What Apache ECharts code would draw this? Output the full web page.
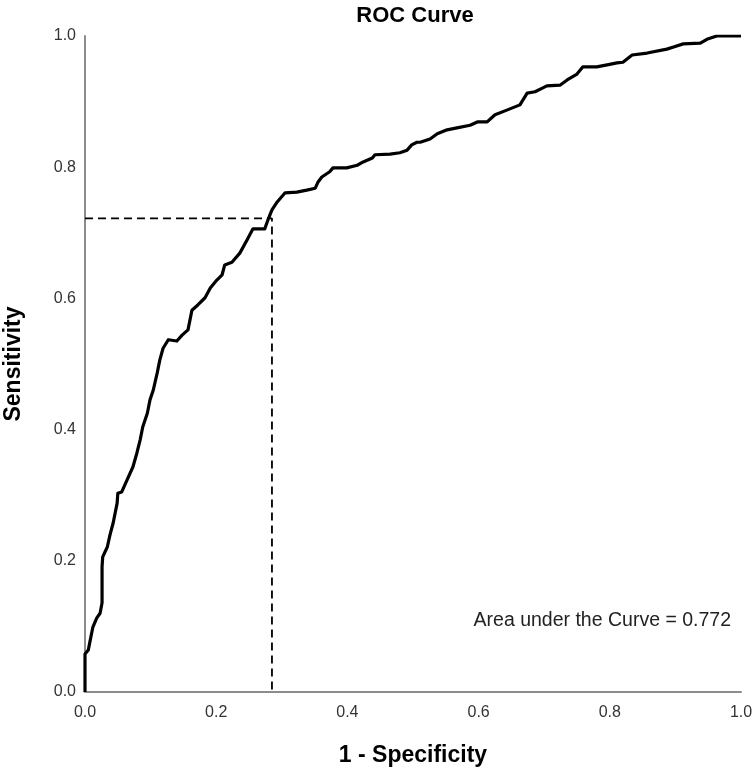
<!DOCTYPE html>
<html>
<head>
<meta charset="utf-8">
<script src="https://cdn.jsdelivr.net/npm/echarts@6/dist/echarts.min.js"></script>
<style>
html,body{margin:0;padding:0;background:#fff;}
#chart{width:755px;height:777px;}
</style>
</head>
<body>
<div id="chart"></div>
<script>
// ROC curve points: [1 - Specificity, Sensitivity]
const fpr = [0, 0, 0.005, 0.008, 0.012, 0.018, 0.023, 0.026, 0.026, 0.027, 0.034, 0.038, 0.043, 0.046, 0.049, 0.050, 0.056, 0.064, 0.073, 0.079, 0.084, 0.088, 0.095, 0.099, 0.104, 0.110, 0.114, 0.119, 0.127, 0.140, 0.148, 0.157, 0.163, 0.172, 0.183, 0.191, 0.201, 0.209, 0.213, 0.224, 0.236, 0.247, 0.256, 0.274, 0.279, 0.285, 0.293, 0.305, 0.323, 0.338, 0.351, 0.355, 0.361, 0.373, 0.378, 0.399, 0.415, 0.424, 0.438, 0.442, 0.465, 0.480, 0.491, 0.498, 0.506, 0.511, 0.526, 0.537, 0.552, 0.567, 0.587, 0.598, 0.613, 0.625, 0.643, 0.663, 0.674, 0.686, 0.698, 0.704, 0.724, 0.735, 0.750, 0.759, 0.780, 0.796, 0.811, 0.820, 0.834, 0.857, 0.887, 0.896, 0.912, 0.938, 0.948, 0.963, 1.0];
const tpr = [0, 0.058, 0.064, 0.079, 0.099, 0.113, 0.120, 0.136, 0.191, 0.206, 0.221, 0.239, 0.258, 0.273, 0.288, 0.303, 0.305, 0.323, 0.343, 0.364, 0.384, 0.404, 0.425, 0.445, 0.460, 0.486, 0.506, 0.524, 0.537, 0.535, 0.544, 0.552, 0.582, 0.590, 0.601, 0.616, 0.628, 0.636, 0.651, 0.655, 0.669, 0.689, 0.706, 0.706, 0.720, 0.735, 0.747, 0.761, 0.762, 0.765, 0.768, 0.777, 0.785, 0.793, 0.799, 0.799, 0.803, 0.808, 0.814, 0.819, 0.820, 0.822, 0.826, 0.834, 0.838, 0.838, 0.843, 0.851, 0.857, 0.860, 0.864, 0.869, 0.869, 0.880, 0.887, 0.895, 0.913, 0.915, 0.921, 0.924, 0.925, 0.933, 0.942, 0.953, 0.953, 0.956, 0.959, 0.960, 0.971, 0.974, 0.980, 0.983, 0.988, 0.989, 0.995, 1.0, 1.0];
// Cut-off reference point
const cutX = [0, 0.285, 0.285];
const cutY = [0.722, 0.722, 0];
const tickValues = [0.0, 0.2, 0.4, 0.6, 0.8, 1.0];
const titleText = 'ROC Curve';
const xTitle = '1 - Specificity';
const yTitle = 'Sensitivity';
const aucText = 'Area under the Curve = 0.772';

const roc = fpr.map((x, i) => [x, tpr[i]]);
const cut = cutX.map((x, i) => [x, cutY[i]]);
const FONT = '"Liberation Sans", Arial, sans-serif';

const chart = echarts.init(document.getElementById('chart'), null, {renderer: 'canvas'});
const axisCommon = {
  type: 'value', min: 0, max: 1, interval: 0.2,
  axisLine: {show: true, lineStyle: {color: '#8c8c8c', width: 2}},
  axisTick: {show: false},
  splitLine: {show: false},
  axisLabel: {color: '#333', fontFamily: FONT, fontSize: 16, formatter: v => v.toFixed(1)},
  nameLocation: 'middle',
  nameTextStyle: {color: '#000', fontFamily: FONT, fontSize: 23, fontWeight: 'bold'}
};
chart.setOption({
  backgroundColor: '#fff',
  animation: false,
  title: {
    text: titleText, left: 410, top: 0, textAlign: 'center',
    textStyle: {color: '#000', fontFamily: FONT, fontSize: 22, fontWeight: 'bold'}
  },
  grid: {left: 85, right: 14, top: 36, bottom: 85, containLabel: false, outerBoundsMode: 'none'},
  xAxis: Object.assign({}, axisCommon, {
    name: xTitle, nameGap: 52,
    axisLabel: Object.assign({}, axisCommon.axisLabel, {margin: 13})
  }),
  yAxis: Object.assign({}, axisCommon, {
    name: yTitle, nameGap: 60,
    axisLabel: Object.assign({}, axisCommon.axisLabel, {margin: 9})
  }),
  series: [
    {
      type: 'line', data: cut, symbol: 'none', silent: true,
      lineStyle: {color: '#000', width: 1.8, type: [8, 5]}
    },
    {
      type: 'line', data: roc, symbol: 'none', silent: true,
      lineStyle: {color: '#000', width: 3.2, join: 'round'}
    }
  ],
  graphic: [{
    type: 'text', right: 24, top: 611,
    style: {text: aucText, fill: '#222', font: '19.5px ' + FONT}
  }]
});
</script>
</body>
</html>
